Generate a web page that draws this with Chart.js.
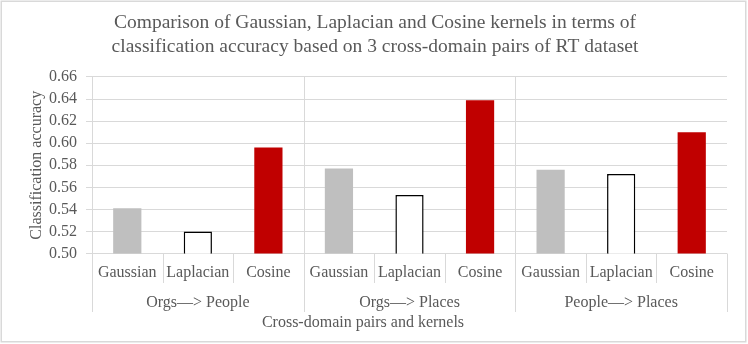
<!DOCTYPE html>
<html><head><meta charset="utf-8">
<script src="https://cdn.jsdelivr.net/npm/chart.js@4/dist/chart.umd.min.js"></script>
<style>html,body{margin:0;padding:0;background:#fff}</style>
</head><body>
<canvas id="c" width="748" height="344"></canvas>
<script>
// ---- data ----
const pairs = ['Orgs\u2014> People', 'Orgs\u2014> Places', 'People\u2014> Places'];
const kernels = ['Gaussian', 'Laplacian', 'Cosine'];
const gaussian = [0.541, 0.577, 0.576];
const laplacian = [0.520, 0.553, 0.572];
const cosine = [0.596, 0.639, 0.610];
const yTicks = [0.50, 0.52, 0.54, 0.56, 0.58, 0.60, 0.62, 0.64, 0.66];
const chartTitle = ['Comparison of Gaussian, Laplacian and Cosine kernels in terms of',
                    'classification accuracy based on 3 cross-domain pairs of RT dataset'];
const yTitle = 'Classification accuracy';
const xTitle = 'Cross-domain pairs and kernels';

// ---- styles ----
const FONT = "'Liberation Serif','Times New Roman',serif";
const TEXT = '#595959';
const LINE = '#d9d9d9';

const labels = pairs.flatMap(() => kernels);
function spread(values, k) {
  const out = labels.map(() => null);
  values.forEach((v, i) => { out[i * kernels.length + k] = v; });
  return out;
}

const decor = {
  id: 'decor',
  beforeDraw(chart) {
    const c = chart.ctx;
    c.save();
    c.fillStyle = '#fff';
    c.fillRect(0, 0, chart.width, chart.height);
    c.strokeStyle = LINE;
    c.lineWidth = 1.5;
    c.strokeRect(1.25, 1.25, 744.5, 340.5);
    c.restore();
  },
  afterDraw(chart) {
    const c = chart.ctx;
    const xs = chart.scales.x;
    const area = chart.chartArea;
    const n = labels.length;
    const w = (xs.right - xs.left) / n;
    const base = area.bottom;
    c.save();
    c.strokeStyle = LINE;
    c.lineWidth = 1;
    for (let k = 0; k <= n; k++) {
      const x = Math.round(xs.left + k * w) + 0.5;
      const isGroup = k % kernels.length === 0;
      c.beginPath();
      if (isGroup && k > 0 && k < n) {
        c.moveTo(x, area.top);
      } else {
        c.moveTo(x, base);
      }
      c.lineTo(x, isGroup ? base + 58.5 : base + 29.5);
      c.stroke();
    }
    c.fillStyle = TEXT;
    c.font = '16px ' + FONT;
    c.textAlign = 'center';
    c.textBaseline = 'middle';
    pairs.forEach((p, i) => {
      const cx = xs.left + (i * kernels.length + kernels.length / 2) * w;
      c.fillText(p, cx, base + 49);
    });
    c.fillText(xTitle, 363, base + 69.5);
    c.restore();
  }
};

new Chart(document.getElementById('c'), {
  type: 'bar',
  data: {
    labels: labels,
    datasets: [
      { label: 'Gaussian', data: spread(gaussian, 0), backgroundColor: '#bfbfbf', borderWidth: 0 },
      { label: 'Laplacian', data: spread(laplacian, 1), backgroundColor: '#ffffff', borderColor: '#000000', borderWidth: 1.5 },
      { label: 'Cosine', data: spread(cosine, 2), backgroundColor: '#c00000', borderWidth: 0 }
    ]
  },
  options: {
    responsive: false,
    devicePixelRatio: 1,
    animation: false,
    layout: { padding: { left: 23, right: 21, top: 0, bottom: 0 } },
    datasets: { bar: { grouped: false, categoryPercentage: 1, barPercentage: 0.4, skipNull: true } },
    plugins: {
      legend: { display: false },
      tooltip: { enabled: false },
      title: {
        display: true,
        text: chartTitle,
        color: TEXT,
        font: { family: FONT, size: 19.5, weight: 'normal', lineHeight: 1.23 },
        padding: { top: 11, bottom: 18 }
      }
    },
    scales: {
      x: {
        grid: { display: false, drawTicks: false },
        border: { display: false },
        ticks: { color: TEXT, font: { family: FONT, size: 16 }, padding: 10, maxRotation: 0, autoSkip: false },
        afterFit(s) { s.height = 344 - 253.5; }
      },
      y: {
        min: 0.5,
        max: 0.66,
        afterBuildTicks(s) { s.ticks = yTicks.map(v => ({ value: v })); },
        grid: { color: LINE, tickLength: 6, drawTicks: true },
        border: { display: true, color: LINE },
        ticks: { color: TEXT, font: { family: FONT, size: 16 }, padding: 9, autoSkip: false, callback: v => Number(v).toFixed(2) },
        title: { display: true, text: yTitle, color: TEXT, font: { family: FONT, size: 16 }, padding: { top: 4.4, bottom: 0 } },
        afterFit(s) { s.width = 92 - 23; }
      }
    }
  },
  plugins: [decor]
});
</script>
</body></html>
